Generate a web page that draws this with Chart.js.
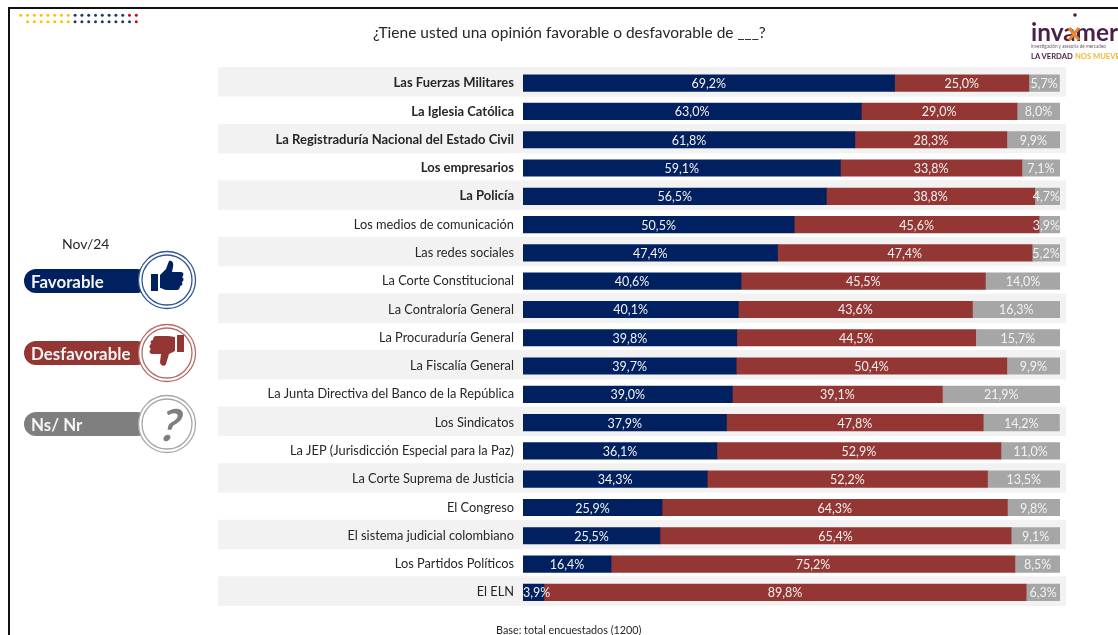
<!DOCTYPE html>
<html lang="es">
<head>
<meta charset="utf-8">
<title>Invamer - Opinión favorable o desfavorable</title>
<script src="https://cdn.jsdelivr.net/npm/chart.js@4/dist/chart.umd.min.js"></script>
<style>
  html, body { margin: 0; padding: 0; background: #fff; }
  body { width: 1118px; height: 635px; position: relative; overflow: hidden; font-family: Lato, sans-serif; color: #262626; }
  #wrap { position: absolute; left: 0; top: 0; width: 1118px; height: 635px; }
  .frame-top { position: absolute; left: 8px; right: 0; top: 7px; height: 2px; background: #111; }
  .frame-left { position: absolute; left: 8px; top: 7px; bottom: 0; width: 2px; background: #111; }
  .title { position: absolute; left: 373px; top: 23px; font-size: 15.5px; white-space: nowrap; }
  .base { position: absolute; left: 496px; top: 623px; font-size: 10.8px; white-space: nowrap; }
  .period { position: absolute; left: 62px; top: 235px; font-size: 14px; }
  .pill { position: absolute; left: 24px; width: 125px; height: 24px; border-radius: 12px; color: #f4f4f4; font-weight: bold; font-size: 16.9px; line-height: 25px; text-indent: 7px; }
  .ring { position: absolute; left: 137px; width: 60px; height: 60px; }
  #dots, #logo { position: absolute; }
  #dots { left: 0; top: 0; }
  #logo { left: 1025px; top: 10px; }
</style>
</head>
<body>
<div id="wrap"><canvas id="chart-opinion" width="1118" height="635"></canvas></div>
<div class="frame-top"></div>
<div class="frame-left"></div>
<svg id="dots" width="160" height="30"></svg>
<div class="title">¿Tiene usted una opinión favorable o desfavorable de ___?</div>

<div class="period">Nov/24</div>
<div class="pill" style="top:269px;background:#002060">Favorable</div>
<svg class="ring" style="top:250px" viewBox="0 0 60 60">
  <circle cx="30" cy="30" r="28.5" fill="#fff" stroke="#2f5597" stroke-width="1.3"/>
  <circle cx="30" cy="30" r="25" fill="#fff" stroke="#2f5597" stroke-width="1.3"/>
  <path fill="#002060" d="M14 24h7v17h-7z"/>
  <path fill="#002060" d="M23 25l6-6 3-8c3-1 5 2 4 6l-1 5h9c3 0 3 4 1 5 2 1 2 4 0 5 1 2 0 4-2 4 0 2-1 4-3 4H30c-3 0-5-2-7-2z"/>
</svg>
<div class="pill" style="top:341px;background:#943634">Desfavorable</div>
<svg class="ring" style="top:323px" viewBox="0 0 60 60">
  <circle cx="30" cy="30" r="28.5" fill="#fff" stroke="#b56a68" stroke-width="1.3"/>
  <circle cx="30" cy="30" r="25" fill="#fff" stroke="#b56a68" stroke-width="1.3"/>
  <path fill="#943634" d="M40 12h7v17h-7z"/>
  <path fill="#943634" d="M38 28l-6 3-3 10c-1 3-6 2-6-2l1-8h-9c-3 0-3-4-1-5-2-1-2-4 0-5-1-2 0-4 2-4 0-2 1-4 3-4h12c3 0 5 1 7 1z"/>
</svg>
<div class="pill" style="top:412px;background:#7f7f7f">Ns/ Nr</div>
<svg class="ring" style="top:394px" viewBox="0 0 60 60">
  <circle cx="30" cy="30" r="28.5" fill="#fff" stroke="#a6a6a6" stroke-width="1.3"/>
  <circle cx="30" cy="30" r="25" fill="#fff" stroke="#a6a6a6" stroke-width="1.3"/>
  <text x="0" y="0" transform="translate(30 47) skewX(-16)" text-anchor="middle" font-family="Lato" font-weight="bold" font-size="44" fill="#7f7f7f">?</text>
</svg>

<svg id="logo" width="93" height="54" viewBox="0 0 93 54">
  <circle cx="50" cy="5" r="1.8" fill="#4b1f47"/>
  <text x="6" y="31" font-family="Lato" font-size="25" font-weight="bold" fill="#4b1f47" textLength="87" lengthAdjust="spacingAndGlyphs">invamer</text>
  <path d="M44 18l10 12M54 18l-10 12" stroke="#e8862c" stroke-width="3"/>
  <text x="6" y="38" font-family="Lato" font-size="5.2" fill="#6b5b6b" textLength="75" lengthAdjust="spacingAndGlyphs">investigación y asesoría de mercadeo</text>
  <text x="6" y="49" font-family="Lato" font-size="7.6" font-weight="bold" fill="#4b1f47">LA VERDAD</text>
  <text x="50" y="49" font-family="Lato" font-size="7.6" font-weight="bold" fill="#f2b632">NOS MUEVE</text>
</svg>

<div class="base">Base: total encuestados (1200)</div>

<script>
const categories = [
  'Las Fuerzas Militares', 'La Iglesia Católica', 'La Registraduría Nacional del Estado Civil',
  'Los empresarios', 'La Policía', 'Los medios de comunicación', 'Las redes sociales',
  'La Corte Constitucional', 'La Contraloría General', 'La Procuraduría General', 'La Fiscalía General',
  'La Junta Directiva del Banco de la República', 'Los Sindicatos',
  'La JEP (Jurisdicción Especial para la Paz)', 'La Corte Suprema de Justicia', 'El Congreso',
  'El sistema judicial colombiano', 'Los Partidos Políticos', 'El ELN'
];
const favorable    = [69.2, 63.0, 61.8, 59.1, 56.5, 50.5, 47.4, 40.6, 40.1, 39.8, 39.7, 39.0, 37.9, 36.1, 34.3, 25.9, 25.5, 16.4, 3.9];
const desfavorable = [25.0, 29.0, 28.3, 33.8, 38.8, 45.6, 47.4, 45.5, 43.6, 44.5, 50.4, 39.1, 47.8, 52.9, 52.2, 64.3, 65.4, 75.2, 89.8];
const nsNr         = [5.7, 8.0, 9.9, 7.1, 4.7, 3.9, 5.2, 14.0, 16.3, 15.7, 9.9, 21.9, 14.2, 11.0, 13.5, 9.8, 9.1, 8.5, 6.3];
const boldRows = 5; // first rows are in bold in the original

// header dots
const dotsEl = document.getElementById('dots');
function dot(x, y, c) {
  const d = document.createElementNS('http://www.w3.org/2000/svg', 'circle');
  d.setAttribute('cx', x); d.setAttribute('cy', y); d.setAttribute('r', 1.5); d.setAttribute('fill', c);
  dotsEl.appendChild(d);
}
for (let i = 0; i < 18; i++) {
  dot(20.7 + i * 6.8, 15.3, i < 8 ? '#ffc000' : i < 16 ? '#1f3864' : '#d0021b');
  if (i > 0) dot(20.7 + i * 6.8, 21.7, i < 8 ? '#ffc000' : i < 17 ? '#1f3864' : '#d0021b');
}

// grey stripes behind the odd rows, drawn before the axis labels
const rowBands = {
  id: 'rowBands',
  beforeDraw(chart) {
    const { ctx, scales: { y } } = chart;
    ctx.save();
    ctx.fillStyle = '#f2f2f2';
    categories.forEach((c, i) => {
      if (i % 2 === 0) ctx.fillRect(218, y.getPixelForValue(i) - 16, 848, 29.5);
    });
    ctx.restore();
  }
};

// percentage inside each segment, kept within the bar's ends
const barValues = {
  id: 'barValues',
  afterDatasetsDraw(chart) {
    const { ctx, chartArea } = chart;
    ctx.save();
    ctx.font = '12.5px Lato';
    ctx.fillStyle = '#f2f2f2';
    ctx.textAlign = 'center';
    ctx.textBaseline = 'middle';
    chart.data.datasets.forEach((ds, di) => {
      chart.getDatasetMeta(di).data.forEach((bar, i) => {
        const p = bar.getProps(['x', 'base', 'y']);
        const txt = ds.data[i].toFixed(1).replace('.', ',') + '%';
        const half = ctx.measureText(txt).width / 2;
        const cx = Math.min(Math.max((p.x + p.base) / 2, chartArea.left + half), chartArea.right - half);
        ctx.fillText(txt, cx, p.y + 1);
      });
    });
    ctx.restore();
  }
};

new Chart(document.getElementById('chart-opinion'), {
  type: 'bar',
  data: {
    labels: categories,
    datasets: [
      { label: 'Favorable', data: favorable, backgroundColor: '#002060' },
      { label: 'Desfavorable', data: desfavorable, backgroundColor: '#943634' },
      { label: 'Ns/ Nr', data: nsNr, backgroundColor: '#a6a6a6' },
    ]
  },
  options: {
    indexAxis: 'y',
    responsive: false,
    animation: false,
    barThickness: 16.5,
    layout: { padding: { top: 69, bottom: 28.5, right: 58, left: 0 } },
    plugins: { legend: { display: false }, tooltip: { enabled: false } },
    scales: {
      x: { stacked: true, min: 0, max: 100, display: false },
      y: {
        stacked: true,
        grid: { display: false, drawTicks: false },
        border: { display: false },
        afterFit(scale) { scale.width = 523; },
        ticks: {
          color: '#262626',
          padding: 9,
          autoSkip: false,
          font: ctx => ctx.index < boldRows
            ? { family: 'Lato', size: 13, weight: 'bold' }
            : { family: 'Lato', size: 12.8, weight: 'normal' },
        }
      }
    }
  },
  plugins: [rowBands, barValues]
});
</script>
</body>
</html>
